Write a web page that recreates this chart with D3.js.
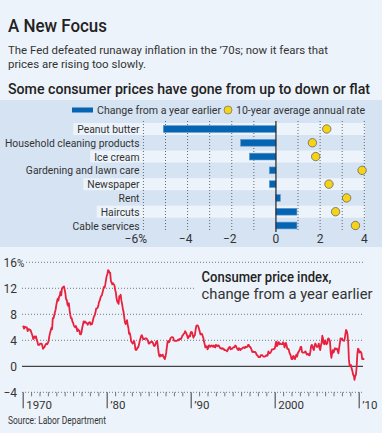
<!DOCTYPE html>
<html>
<head>
<meta charset="utf-8">
<script src="https://cdn.jsdelivr.net/npm/d3@7"></script>
<style>
  body { margin: 0; background: #edf3fb; }
  svg { display: block; font-family: Roboto, "Noto Sans", sans-serif; }
</style>
</head>
<body>
<svg id="chart" width="382" height="433"></svg>
<script>
// bar chart data
const categories = ["Peanut butter", "Household cleaning products", "Ice cream", "Gardening and lawn care",
  "Newspaper", "Rent", "Haircuts", "Cable services"];
const yearChange = [-5.1, -1.6, -1.2, -0.3, -0.3, 0.2, 0.95, 0.95];
const tenYearAvg = [2.3, 1.65, 1.8, 3.9, 2.4, 3.2, 2.7, 3.6];
const barTicks = [-6, -4, -2, 0, 2, 4];
const barGrid = [-6, -5, -4, -3, -2, -1, 1, 2, 3, 4];

// CPI, change from a year earlier, monthly from Jan 1970
const cpiStartYear = 1970;
const cpi = [
  6.2, 6.1, 5.8, 6.1, 6.0, 6.0, 6.0, 5.4, 5.7, 5.7, 5.6, 5.6,
  5.3, 5.0, 4.7, 4.2, 4.4, 4.6, 4.4, 4.6, 4.1, 3.8, 3.3, 3.3,
  3.3, 3.5, 3.5, 3.5, 3.2, 2.7, 2.9, 2.9, 3.2, 3.4, 3.5, 3.4,
  3.6, 3.9, 4.6, 5.1, 5.5, 5.9, 5.7, 7.4, 7.4, 7.8, 8.3, 8.7,
  9.4, 10.0, 10.4, 10.1, 10.7, 10.9, 11.5, 10.9, 11.9, 12.1, 12.2, 12.3,
  11.8, 11.2, 10.3, 10.2, 9.5, 9.3, 9.7, 8.6, 7.9, 7.4, 7.4, 6.9,
  6.7, 6.3, 6.1, 6.0, 6.2, 5.9, 5.4, 5.7, 5.5, 5.5, 4.9, 4.9,
  5.2, 5.9, 6.4, 6.9, 6.7, 6.9, 6.8, 6.6, 6.6, 6.4, 6.7, 6.7,
  6.8, 6.4, 6.6, 6.5, 6.9, 7.4, 7.7, 7.9, 8.3, 8.9, 8.9, 9.0,
  9.3, 9.9, 10.1, 10.5, 10.8, 10.9, 11.3, 11.8, 12.2, 12.1, 12.6, 13.3,
  13.9, 14.2, 14.8, 14.7, 14.4, 14.4, 13.1, 12.9, 12.6, 12.8, 12.6, 12.5,
  11.8, 11.4, 10.5, 10.0, 9.8, 9.6, 10.8, 10.8, 11.0, 10.1, 9.6, 8.9,
  8.4, 7.6, 6.8, 6.5, 6.7, 7.1, 6.4, 5.9, 5.0, 5.1, 4.6, 3.8,
  3.7, 3.5, 3.6, 3.9, 3.5, 2.6, 2.5, 2.6, 2.9, 2.9, 3.3, 3.8,
  4.2, 4.6, 4.8, 4.6, 4.2, 4.2, 4.2, 4.3, 4.3, 4.3, 4.1, 3.9,
  3.5, 3.5, 3.7, 3.7, 3.8, 3.8, 3.6, 3.3, 3.1, 3.2, 3.5, 3.8,
  3.9, 3.1, 2.2, 1.6, 1.5, 1.8, 1.6, 1.6, 1.8, 1.5, 1.3, 1.1,
  1.5, 2.1, 3.0, 3.8, 3.9, 3.7, 3.9, 4.3, 4.4, 4.5, 4.5, 4.4,
  4.0, 3.9, 3.9, 3.9, 3.9, 4.0, 4.1, 4.0, 4.2, 4.2, 4.2, 4.4,
  4.7, 4.8, 5.0, 5.1, 5.4, 5.2, 5.0, 4.7, 4.3, 4.5, 4.7, 4.6,
  5.2, 5.3, 5.2, 4.7, 4.4, 4.7, 4.8, 5.6, 6.2, 6.3, 6.3, 6.1,
  5.7, 5.3, 4.9, 4.9, 5.0, 4.7, 4.4, 3.8, 3.4, 2.9, 3.0, 3.1,
  2.6, 2.8, 3.2, 3.2, 3.0, 3.1, 3.2, 3.1, 3.0, 3.2, 3.0, 2.9,
  3.3, 3.2, 3.1, 3.2, 3.2, 3.0, 2.8, 2.8, 2.7, 2.8, 2.7, 2.7,
  2.5, 2.5, 2.5, 2.4, 2.3, 2.5, 2.8, 2.9, 3.0, 2.6, 2.7, 2.7,
  2.8, 2.9, 2.9, 3.1, 3.2, 3.0, 2.8, 2.6, 2.5, 2.8, 2.6, 2.5,
  2.7, 2.7, 2.8, 2.9, 2.9, 2.8, 3.0, 2.9, 3.0, 3.0, 3.3, 3.3,
  3.0, 3.0, 2.8, 2.5, 2.2, 2.3, 2.2, 2.2, 2.2, 2.1, 1.8, 1.7,
  1.6, 1.4, 1.4, 1.4, 1.7, 1.7, 1.7, 1.6, 1.5, 1.5, 1.5, 1.6,
  1.7, 1.6, 1.7, 2.3, 2.1, 2.0, 2.1, 2.3, 2.6, 2.6, 2.6, 2.7,
  2.7, 3.2, 3.8, 3.1, 3.2, 3.7, 3.7, 3.4, 3.5, 3.4, 3.4, 3.4,
  3.7, 3.5, 2.9, 3.3, 3.6, 3.2, 2.7, 2.7, 2.6, 2.1, 1.9, 1.6,
  1.1, 1.1, 1.5, 1.6, 1.2, 1.1, 1.5, 1.8, 1.5, 2.0, 2.2, 2.4,
  2.6, 3.0, 3.0, 2.2, 2.1, 2.1, 2.1, 2.2, 2.3, 2.0, 1.8, 1.9,
  1.9, 1.7, 1.7, 2.3, 3.1, 3.3, 3.0, 2.7, 2.5, 3.2, 3.5, 3.3,
  3.0, 3.0, 3.1, 3.5, 2.8, 2.5, 3.2, 3.6, 4.7, 4.3, 3.5, 3.4,
  4.0, 3.6, 3.4, 3.5, 4.2, 4.3, 4.1, 3.8, 2.1, 1.3, 2.0, 2.5,
  2.1, 2.4, 2.8, 2.6, 2.7, 2.7, 2.4, 2.0, 2.8, 3.5, 4.3, 4.1,
  4.3, 4.0, 4.0, 3.9, 4.2, 5.0, 5.6, 5.4, 4.9, 3.7, 1.1, 0.1,
  0.0, 0.2, -0.4, -0.7, -1.3, -1.4, -2.1, -1.5, -1.3, -0.2, 1.8, 2.7,
  2.6, 2.1, 2.3, 2.2, 2.0, 1.1, 1.2, 1.1, 1.1
];
const cpiTicks = [-4, 0, 4, 8, 12, 16];
const decadeLabels = [[1970, "1970"], [1980, "\u201980"], [1990, "\u201990"], [2000, "2000"], [2010, "\u201910"]];

const svg = d3.select("#chart");
const TEXT = "#333";

// squeeze a text horizontally to a given width (the reference face is narrow)
function fit(sel, w) {
  sel.attr("textLength", w).attr("lengthAdjust", "spacingAndGlyphs");
  return sel;
}

svg.append("rect").attr("width", 382).attr("height", 433).attr("fill", "#edf3fb");

// headings
fit(svg.append("text").attr("x", 8).attr("y", 32).attr("font-size", 18).attr("font-weight", 500)
  .attr("fill", "#222").text("A New Focus"), 99);
fit(svg.append("text").attr("x", 8).attr("y", 54).attr("font-size", 11.5).attr("fill", TEXT)
  .text("The Fed defeated runaway inflation in the \u201970s; now it fears that"), 320);
fit(svg.append("text").attr("x", 8).attr("y", 67.5).attr("font-size", 11.5).attr("fill", TEXT)
  .text("prices are rising too slowly."), 138);
fit(svg.append("text").attr("x", 8).attr("y", 94).attr("font-size", 14).attr("font-weight", 500)
  .attr("fill", "#222").text("Some consumer prices have gone from up to down or flat"), 362);

// ---- bar chart ----
svg.append("rect").attr("x", 0).attr("y", 100).attr("width", 382).attr("height", 147).attr("fill", "#d5e3f3");

let bx = d3.scaleLinear().domain([-6, 4]).range([143.4, 364.3]);
let by = d3.scaleBand().domain(categories).range([122.1, 232.4]);
let LABEL_X = 139.5;
let LABEL_K = 0.9;

let bar = svg.append("g");

// legend
bar.append("rect").attr("x", 72).attr("y", 107.5).attr("width", 21).attr("height", 5).attr("fill", "#0565b2");
fit(bar.append("text").attr("x", 97).attr("y", 114).attr("font-size", 11).attr("fill", TEXT)
  .text("Change from a year earlier"), 124);
bar.append("circle").attr("cx", 228).attr("cy", 110).attr("r", 4).attr("fill", "#f6d316")
  .attr("stroke", "#777").attr("stroke-width", 0.8);
fit(bar.append("text").attr("x", 236).attr("y", 114).attr("font-size", 11).attr("fill", TEXT)
  .text("10-year average annual rate"), 129);

// row labels + stripes
let rows = bar.selectAll("g.row").data(categories).join("g").attr("class", "row");
rows.append("rect").attr("class", "stripe");
rows.append("text")
  .attr("x", LABEL_X).attr("y", d => by(d) + by.bandwidth() / 2 + 4)
  .attr("text-anchor", "end").attr("font-size", 11.5).attr("fill", TEXT)
  .text(d => d);
rows.each(function(d, i) {
  let g = d3.select(this);
  let t = g.select("text");
  let w = t.node().getComputedTextLength() * LABEL_K;
  t.attr("textLength", w).attr("lengthAdjust", "spacingAndGlyphs");
  g.select("rect")
    .attr("x", LABEL_X - w - 4).attr("y", by(d) + by.bandwidth() / 2 - 6)
    .attr("width", 365 - (LABEL_X - w - 4)).attr("height", 12)
    .attr("fill", i % 2 == 0 ? "#ecf3fb" : "none");
});

// gridlines
bar.selectAll("line.grid").data(barGrid).join("line")
  .attr("x1", d => bx(d)).attr("x2", d => bx(d))
  .attr("y1", 121).attr("y2", 230)
  .attr("stroke", "#666").attr("stroke-width", 1).attr("stroke-dasharray", "1,2");

// bars
bar.selectAll("rect.bar").data(categories).join("rect").attr("class", "bar")
  .attr("x", (d, i) => bx(Math.min(0, yearChange[i])))
  .attr("y", d => by(d) + by.bandwidth() / 2 - 3.4)
  .attr("width", (d, i) => Math.abs(bx(yearChange[i]) - bx(0)))
  .attr("height", 6.8)
  .attr("fill", "#0565b2").attr("stroke", "#5d9bd0").attr("stroke-width", 0.6);

bar.append("line").attr("x1", bx(0)).attr("x2", bx(0)).attr("y1", 121).attr("y2", 232)
  .attr("stroke", "#222").attr("stroke-width", 1.2);

// dots
bar.selectAll("circle.avg").data(categories).join("circle").attr("class", "avg")
  .attr("cx", (d, i) => bx(tenYearAvg[i])).attr("cy", d => by(d) + by.bandwidth() / 2)
  .attr("r", 4.2).attr("fill", "#f6d316").attr("stroke", "#666").attr("stroke-width", 0.8);

// tick labels
bar.selectAll("text.tick").data(barTicks).join("text").attr("class", "tick")
  .attr("x", d => d == -6 ? 147 : bx(d) - (d < 0 ? 2 : 0))
  .attr("y", 243).attr("font-size", 12).attr("fill", TEXT)
  .attr("text-anchor", d => d == -6 ? "end" : "middle")
  .text(d => (d < 0 ? "\u2212" + Math.abs(d) : d) + (d == -6 ? "%" : ""));

// ---- line chart ----
let lx = d3.scaleLinear().domain([1970, 2010]).range([22.7, 358.7]);
let ly = d3.scaleLinear().domain([-4, 16]).range([392.3, 262.3]);
let line = svg.append("g");

line.selectAll("line.grid").data(cpiTicks.filter(d => d != 0)).join("line")
  .attr("x1", d => d == 16 ? 26 : 22).attr("x2", 363)
  .attr("y1", d => ly(d)).attr("y2", d => ly(d))
  .attr("stroke", "#777").attr("stroke-width", 1).attr("stroke-dasharray", "1,2");

line.selectAll("text.ylab").data(cpiTicks).join("text").attr("class", "ylab")
  .attr("x", 17).attr("y", d => ly(d) + 4.5).attr("text-anchor", "end")
  .attr("font-size", 12).attr("fill", TEXT)
  .text(d => d < 0 ? "\u2212" + Math.abs(d) : d);
line.append("text").attr("x", 17).attr("y", ly(16) + 4.5).attr("font-size", 10).attr("fill", TEXT).text("%");

// annotation box covers gridlines
line.append("rect").attr("x", 195).attr("y", 268).attr("width", 172).attr("height", 36).attr("fill", "#edf3fb");
fit(line.append("text").attr("x", 201.5).attr("y", 282).attr("font-size", 15).attr("font-weight", 500)
  .attr("fill", "#222").text("Consumer price index,"), 130);
fit(line.append("text").attr("x", 201.5).attr("y", 298.5).attr("font-size", 15)
  .attr("fill", TEXT).text("change from a year earlier"), 171);

// x axis ticks
let xAxis = line.append("g").attr("transform", `translate(0,${ly(-4)})`)
  .call(d3.axisBottom(lx).tickValues(d3.range(1970, 2011)).tickSize(4).tickFormat(""));
xAxis.select(".domain").remove();
xAxis.selectAll(".tick line").attr("stroke", "#555")
  .attr("y2", d => d % 10 == 0 ? 16 : 4)
  .attr("stroke-width", d => d % 10 == 0 ? 1.2 : 0.8);

line.selectAll("text.xlab").data(decadeLabels).join("text").attr("class", "xlab")
  .attr("x", d => lx(d[0]) + 3.5).attr("y", 409).attr("font-size", 11.5).attr("fill", TEXT)
  .text(d => d[1]);

// zero line
line.append("line").attr("x1", 22).attr("x2", 363).attr("y1", ly(0)).attr("y2", ly(0))
  .attr("stroke", "#444").attr("stroke-width", 1.2);

let series = cpi.map((v, i) => ({ t: cpiStartYear + i / 12, v: v }));
line.append("path").datum(series)
  .attr("d", d3.line().x(d => lx(d.t)).y(d => ly(d.v)))
  .attr("fill", "none").attr("stroke", "#e8223e").attr("stroke-width", 1.8)
  .attr("stroke-linejoin", "round");

fit(svg.append("text").attr("x", 8).attr("y", 424).attr("font-size", 10).attr("fill", TEXT)
  .text("Source: Labor Department"), 98);
</script>
</body>
</html>
